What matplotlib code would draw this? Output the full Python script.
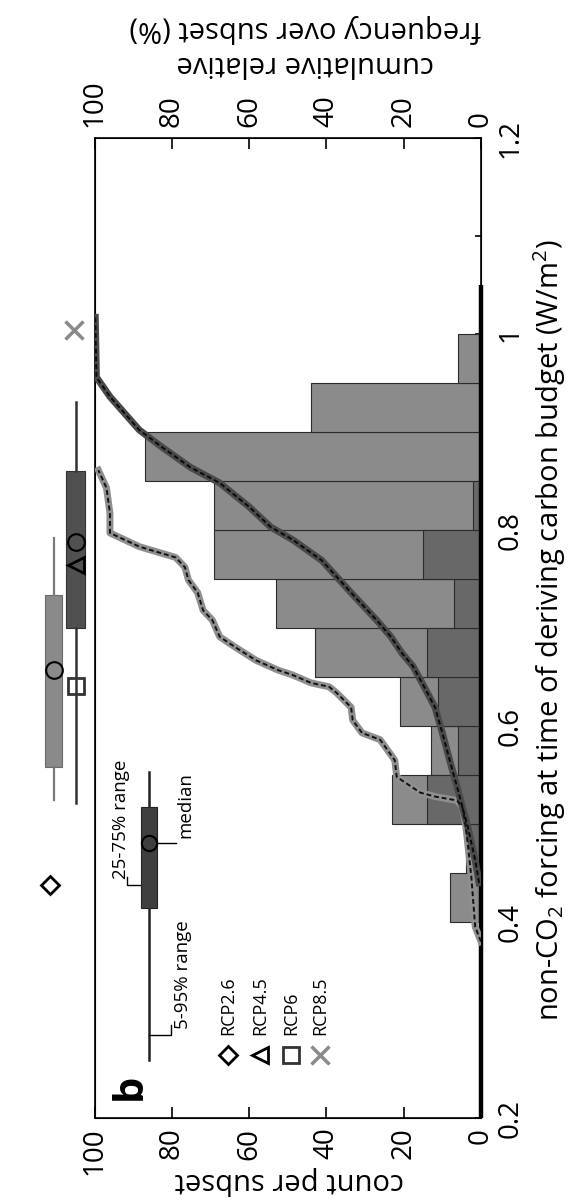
import matplotlib
matplotlib.use("Agg")
import matplotlib.pyplot as plt

plt.rcParams['font.family'] = ['Open Sans', 'DejaVu Sans']
plt.rcParams['mathtext.fontset'] = 'custom'
plt.rcParams['mathtext.rm'] = 'Open Sans'
plt.rcParams['mathtext.it'] = 'Open Sans:italic'

# ---- data -------------------------------------------------------------
bin_lower = [0.40, 0.45, 0.50, 0.55, 0.60, 0.65, 0.70, 0.75, 0.80, 0.85, 0.90, 0.95]
bin_width = 0.05
counts_wide = [8, 4, 23, 13, 21, 43, 53, 69, 69, 87, 44, 6]
counts_narrow = [0, 3, 14, 6, 11, 14, 7, 15, 2, 0, 0, 0]

# cumulative relative frequency (%) of the narrow subset
cum_narrow_forcing = [0.380, 0.395, 0.446, 0.497, 0.517, 0.524, 0.528, 0.532, 0.548, 0.565,
                      0.586, 0.593, 0.606, 0.619, 0.634, 0.640, 0.644, 0.652, 0.657, 0.667,
                      0.681, 0.691, 0.708, 0.718, 0.736, 0.749, 0.762, 0.772, 0.783, 0.797,
                      0.817, 0.843, 0.861]
cum_narrow_pct = [0.0, 1.5, 2.5, 3.9, 4.8, 6.2, 11.9, 15.7, 21.8, 22.3,
                  26.1, 30.8, 33.2, 33.6, 37.4, 39.3, 44.0, 48.7, 52.5, 58.2,
                  63.8, 67.6, 69.5, 71.9, 73.3, 75.7, 76.6, 79.0, 88.4, 96.0,
                  96.0, 96.9, 99.0]

# cumulative relative frequency (%) of the wide subset
cum_wide_forcing = [0.440, 0.463, 0.497, 0.517, 0.538, 0.565, 0.593, 0.619, 0.640, 0.661,
                    0.674, 0.691, 0.708, 0.736, 0.769, 0.790, 0.803, 0.824, 0.848, 0.864,
                    0.885, 0.902, 0.936, 0.956, 1.017]
cum_wide_pct = [0.5, 1.5, 3.4, 4.8, 6.2, 8.1, 10.0, 11.9, 14.7, 17.6,
                20.4, 23.3, 27.0, 33.6, 41.2, 48.7, 54.4, 60.1, 67.6, 75.2,
                82.7, 88.4, 96.0, 99.5, 99.8]

# box statistics (5, 25, 50, 75, 95 %) for the two subsets
box_wide = dict(whislo=0.521, q1=0.700, med=0.788, q3=0.860, whishi=0.931)
box_narrow = dict(whislo=0.524, q1=0.558, med=0.657, q3=0.734, whishi=0.792)

# single-scenario values
rcp_names = ['RCP2.6', 'RCP4.5', 'RCP6', 'RCP8.5']
rcp_values = [0.438, 0.764, 0.641, 1.004]

count_ticks = [100, 80, 60, 40, 20, 0]
forcing_ticks = [0.2, 0.4, 0.6, 0.8, 1.0, 1.2]
forcing_ticklabels = ['0.2', '0.4', '0.6', '0.8', '1', '1.2']

# ---- figure -------------------------------------------------------------
W, H = 573, 1204
fig = plt.figure(figsize=(W / 100, H / 100), dpi=100)
L, R, T, B = 94.5, 481, 138, 1118
ax = fig.add_axes([L / W, 1 - B / H, (R - L) / W, (B - T) / H])
ax.set_xlim(100, 0)
ax.set_ylim(0.2, 1.2)

light = '#8b8b8b'
dark = '#686868'
ax.barh(bin_lower, counts_wide, height=bin_width, align='edge',
        color=light, edgecolor='#2b2b2b', linewidth=0.8, zorder=2)
ax.barh(bin_lower, counts_narrow, height=bin_width, align='edge',
        color=dark, edgecolor='#2b2b2b', linewidth=0.8, zorder=3)

# zero-count baseline
ax.plot([0, 0], [0.2, 1.05], color='black', lw=3.2, solid_capstyle='butt',
        clip_on=False, zorder=6)

for s in ax.spines.values():
    s.set_linewidth(1.2)

ax.set_xticks(count_ticks)
ax.set_xticklabels([str(t) for t in count_ticks])
ax.tick_params(axis='x', direction='in', length=8, width=1.2, labelsize=20,
               pad=7, labelrotation=90)
ax.yaxis.tick_right()
ax.set_yticks(forcing_ticks)
ax.set_yticks([1.1], minor=True)
ax.tick_params(axis='y', which='both', direction='in', length=4, width=1.2,
               labelsize=20, pad=11)
ax.set_yticklabels(forcing_ticklabels, rotation=90, va='center', ha='left')

# cumulative frequency axis on top
ax2 = ax.twiny()
ax2.set_xlim(100, 0)
ax2.set_xticks(count_ticks)
ax2.set_xticklabels([str(t) for t in count_ticks])
ax2.tick_params(axis='x', direction='in', length=8, width=1.2, labelsize=20,
                pad=8, labelrotation=90)

ax2.plot(cum_narrow_pct, cum_narrow_forcing, color='#8f8f8f', lw=5,
         solid_joinstyle='round', zorder=4)
ax2.plot(cum_narrow_pct, cum_narrow_forcing, color='#111111', lw=1.4,
         dashes=(2.5, 1.5), zorder=5)
ax2.plot(cum_wide_pct, cum_wide_forcing, color='#4a4a4a', lw=5,
         solid_joinstyle='round', zorder=4)
ax2.plot(cum_wide_pct, cum_wide_forcing, color='#0a0a0a', lw=1.4,
         dashes=(2.5, 1.5), zorder=5)

# ---- box plots in the margin ---------------------------------------------
pos_wide, pos_narrow = 104.8, 110.6
bw = ax.bxp([box_wide], positions=[pos_wide], widths=4.9, showcaps=False,
            showfliers=False, patch_artist=True, manage_ticks=False,
            boxprops=dict(facecolor='#505050', edgecolor='#333333', linewidth=0.8),
            whiskerprops=dict(color='#333333', linewidth=1.8),
            medianprops=dict(linewidth=0))
bn = ax.bxp([box_narrow], positions=[pos_narrow], widths=4.6, showcaps=False,
            showfliers=False, patch_artist=True, manage_ticks=False,
            boxprops=dict(facecolor='#8a8a8a', edgecolor='#6a6a6a', linewidth=0.8),
            whiskerprops=dict(color='#7a7a7a', linewidth=1.6),
            medianprops=dict(linewidth=0))
for d in (bw, bn):
    for arts in d.values():
        for a in arts:
            a.set_clip_on(False)

ax.plot(pos_wide, box_wide['med'], 'o', ms=12, mfc='none', mec='black', mew=1.5, clip_on=False, zorder=7)
ax.plot(pos_narrow, box_narrow['med'], 'o', ms=12, mfc='none', mec='black', mew=1.5, clip_on=False, zorder=7)

rcp_x = [pos_narrow + 0.8, pos_wide, pos_wide, pos_wide + 0.4]
rcp_marker = ['D', '<', 's', 'x']
rcp_edge = ['black', 'black', '#333333', '#8a8a8a']
rcp_ms = [9, 12, 12, 13]
rcp_mew = [2.0, 2.0, 2.0, 2.5]
for xv, yv, m, c, ms, mew in zip(rcp_x, rcp_values, rcp_marker, rcp_edge, rcp_ms, rcp_mew):
    ax.plot(xv, yv, m, ms=ms, mfc='none', mec=c, mew=mew, clip_on=False, zorder=7)

# ---- legend inside the panel ---------------------------------------------
lx = 85.8
ax.plot([lx, lx], [0.259, 0.553], color='#222222', lw=1.8, zorder=6)
ax.bar(lx, 0.517 - 0.414, bottom=0.414, width=4.1, color='#3f3f3f',
       edgecolor='#222222', linewidth=0.8, zorder=7)
ax.plot(lx, 0.481, 'o', ms=11, mfc='none', mec='black', mew=1.5, zorder=8)
ax.plot([lx, 79.0], [0.481, 0.481], color='black', lw=1.0, zorder=6)
ax.plot([lx, 80.2, 80.2], [0.285, 0.285, 0.295], color='black', lw=1.0, zorder=6)
ax.plot([88.0, 91.6, 91.6], [0.438, 0.438, 0.446], color='black', lw=1.0, zorder=6)
txt_kw = dict(rotation=90, rotation_mode='anchor', ha='left', va='center', fontsize=13.5)
ax.text(77.2, 0.291, '5-95% range', **txt_kw)
ax.text(76.6, 0.486, 'median', **txt_kw)
ax.text(93.2, 0.444, '25-75% range', **txt_kw)
ax.text(90.7, 0.232, 'b', rotation=90, ha='center', va='center',
        fontsize=30, fontweight='bold')

leg_x = [65.4, 57.1, 49.1, 41.6]
for xv, m, c, ms, mew, name in zip(leg_x, rcp_marker, rcp_edge, rcp_ms, rcp_mew, rcp_names):
    ax.plot(xv, 0.264, m, ms=ms, mfc='none', mec=c, mew=mew, zorder=7)
    ax.text(xv, 0.285, name, rotation=90, rotation_mode='anchor', ha='left',
            va='center', fontsize=13)

# ---- axis titles ----------------------------------------------------------
fig.text(289 / W, 1 - 1180 / H, 'count per subset', rotation=180,
         ha='center', va='center', fontsize=21)
fig.text(305 / W, 1 - 46 / H, 'cumulative relative\nfrequency over subset (%)',
         rotation=180, ha='center', va='center', fontsize=21, linespacing=1.25)
fig.text(550 / W, 1 - 630 / H,
         'non-CO$_2$ forcing at time of deriving carbon budget (W/m$^2$)',
         rotation=90, ha='center', va='center', fontsize=21)

fig.savefig('out.png', dpi=100)
